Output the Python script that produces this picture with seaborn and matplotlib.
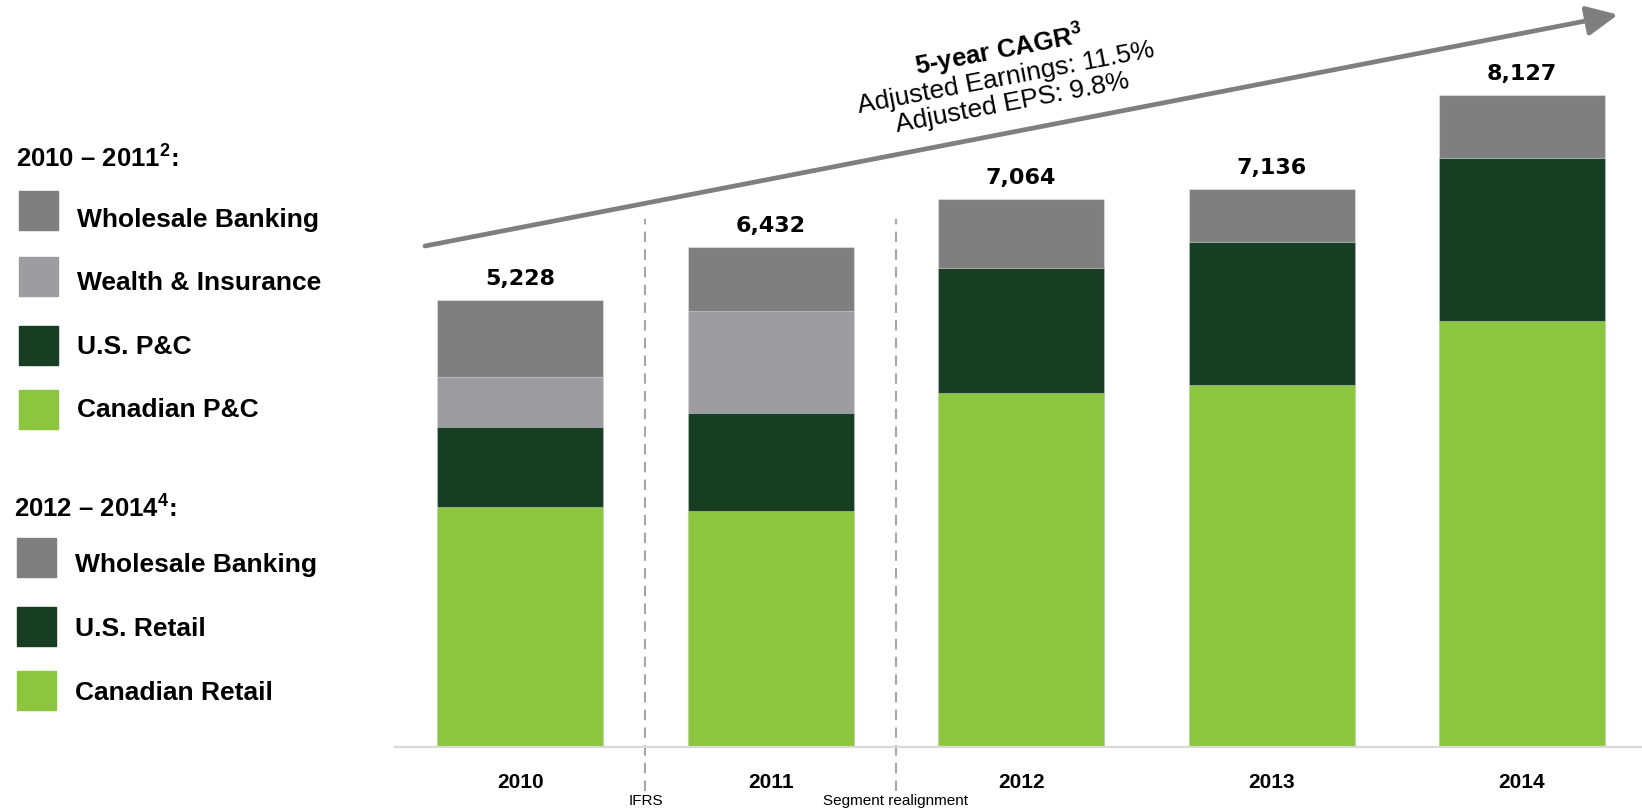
import matplotlib
matplotlib.use('Agg')
import numpy as np
import pandas as pd
import seaborn as sns
from matplotlib import pyplot as plt
from matplotlib.patches import Rectangle

# adjusted earnings by segment ($MM)
years = ['2010', '2011', '2012', '2013', '2014']
canadian = [3000, 2955, 4430, 4530, 5325]
us = [1000, 1225, 1565, 1790, 2045]
wealth = [625, 1275, 0, 0, 0]
wholesale = [970, 795, 855, 655, 785]
totals = [5228, 6432, 7064, 7136, 8127]

legend1 = ['Wholesale Banking', 'Wealth & Insurance', 'U.S. P&C', 'Canadian P&C']
legend2 = ['Wholesale Banking', 'U.S. Retail', 'Canadian Retail']

GREY = '#7f7f7f'
LGREY = '#9d9ca1'
DGREEN = '#173d23'
GREEN = '#8cc63f'

sns.set_style('white')
plt.rcParams['font.family'] = ['Liberation Sans', 'DejaVu Sans']
plt.rcParams['mathtext.fontset'] = 'custom'
plt.rcParams['mathtext.rm'] = 'Liberation Sans'
plt.rcParams['mathtext.bf'] = 'Liberation Sans:bold'
plt.rcParams['text.color'] = 'black'
plt.rcParams['xtick.color'] = 'black'

df = pd.DataFrame({'year': years, 'canadian': canadian, 'us': us,
                   'wealth': wealth, 'wholesale': wholesale})
df['c_us'] = df['canadian'] + df['us']
df['c_wealth'] = df['c_us'] + df['wealth']
df['c_all'] = df['c_wealth'] + df['wholesale']

W, H = 1642, 812
fig = plt.figure(figsize=(W / 100, H / 100), dpi=100)
ax = fig.add_axes([395 / W, 63.7 / H, 1247 / W, 748.3 / H])

# stacked bars drawn as overlapping cumulative layers
for col, c in [('c_all', GREY), ('c_wealth', LGREY), ('c_us', DGREEN), ('canadian', GREEN)]:
    sns.barplot(data=df, x='year', y=col, color=c, width=0.663, ax=ax,
                saturation=1, errorbar=None, edgecolor=(1, 1, 1, 0.35), linewidth=0.8)

ax.set_xlim(-0.5, 4.479)
ax.set_ylim(0, 9354)
sns.despine(ax=ax, left=True)
ax.spines['bottom'].set_color('#d9d9d9')
ax.spines['bottom'].set_linewidth(1.6)
ax.set_yticks([])
ax.set_xlabel('')
ax.set_ylabel('')
ax.tick_params(axis='x', length=0, pad=18, labelsize=15, labelcolor='black')
for lbl in ax.get_xticklabels():
    lbl.set_fontweight('bold')

for i, (top, t) in enumerate(zip(df['c_all'], totals)):
    ax.annotate(f'{t:,}', (i, top), xytext=(0, 22), textcoords='offset pixels',
                ha='center', va='center', fontsize=16, fontweight='bold',
                family='DejaVu Sans', color='black')

# break markers
for x, txt in [(0.5, 'IFRS'), (1.5, 'Segment realignment')]:
    ax.axvline(x, ymin=-0.058, ymax=0.706, color='#a6a6a6', lw=1.5,
               ls=(0, (5, 3.5)), clip_on=False)
    ax.text(x, -0.071, txt, transform=ax.get_xaxis_transform(),
            ha='center', va='center', fontsize=11)

# growth arrow + CAGR text
ax.annotate('', xy=(1618 / W, 1 - 15.7 / H), xytext=(425 / W, 1 - 247 / H),
            xycoords='figure fraction', textcoords='figure fraction',
            arrowprops=dict(arrowstyle='-|>,head_length=1.9,head_width=0.9',
                            color=GREY, lw=3.4, shrinkA=0, shrinkB=0,
                            mutation_scale=10))
ang = 10.8
fig.text(999 / W, 1 - 50 / H, '5-year CAGR$^{\\mathbf{3}}$', rotation=ang,
         rotation_mode='anchor', ha='center', va='center', fontsize=18.5, fontweight='bold')
fig.text(1006 / W, 1 - 78 / H, 'Adjusted Earnings: 11.5%', rotation=ang,
         rotation_mode='anchor', ha='center', va='center', fontsize=19)
fig.text(1012 / W, 1 - 103 / H, 'Adjusted EPS: 9.8%', rotation=ang,
         rotation_mode='anchor', ha='center', va='center', fontsize=19)


def legend_group(title, labels, colors, tb, boxes, bases, xp, xt):
    fig.text((xp - 3) / W, 1 - tb / H, title, fontsize=18.5, fontweight='bold',
             va='baseline', ha='left')
    for lab, c, yb, base in zip(labels, colors, boxes, bases):
        fig.add_artist(Rectangle((xp / W, 1 - (yb + 39) / H), 39 / W, 39 / H,
                                 transform=fig.transFigure, color=c))
        fig.text(xt / W, 1 - base / H, lab, fontsize=19, fontweight='bold',
                 va='baseline', ha='left')


legend_group('2010 – 2011$^{\\mathbf{2}}$:', legend1, [GREY, LGREY, DGREEN, GREEN],
             167, [192, 258, 327, 391], [227, 290, 354, 417], 19, 77)
legend_group('2012 – 2014$^{\\mathbf{4}}$:', legend2, [GREY, DGREEN, GREEN],
             517, [539, 608, 672], [572, 636, 700], 17, 75)

fig.savefig('out.png', dpi=100)
